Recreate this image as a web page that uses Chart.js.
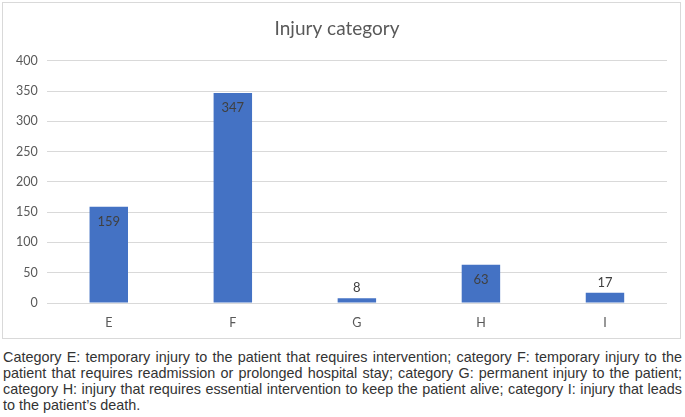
<!DOCTYPE html>
<html>
<head>
<meta charset="utf-8">
<script src="https://cdn.jsdelivr.net/npm/chart.js@4/dist/chart.umd.min.js"></script>
<style>
    body { margin: 0; background: #fff; width: 685px; height: 417px; overflow: hidden; }
    .chartBox { position: absolute; left: 2px; top: 2px; width: 677px; height: 335px; border: 1px solid #d9d9d9; }
    .caption { position: absolute; left: 3px; top: 349px; width: 679px; margin: 0;
        font-family: "Liberation Sans", Arial, sans-serif; font-size: 14.4px; line-height: 16px;
        color: #333; text-align: justify; }
</style>
</head>
<body>
<div class="chartBox"><canvas id="injuryChartElem" width="677" height="335"></canvas></div>
<p class="caption">Category E: temporary injury to the patient that requires intervention; category F: temporary injury to the patient that requires readmission or prolonged hospital stay; category G: permanent injury to the patient; category H: injury that requires essential intervention to keep the patient alive; category I: injury that leads to the patient’s death.</p>

<script>
const categories = ['E', 'F', 'G', 'H', 'I'];
const injuryCounts = [159, 347, 8, 63, 17];
const yTicks = [0, 50, 100, 150, 200, 250, 300, 350, 400];

const fontFamily = 'Lato, "Open Sans", sans-serif';

// Value labels: inside the top of tall bars, above short ones
const barLabels = {
    id: 'barLabels',
    afterDatasetsDraw(chart) {
        const ctx = chart.ctx;
        const meta = chart.getDatasetMeta(0);
        ctx.save();
        ctx.font = `13px ${fontFamily}`;
        ctx.fillStyle = '#404040';
        ctx.textAlign = 'center';
        ctx.textBaseline = 'middle';
        meta.data.forEach((bar, i) => {
            const h = bar.base - bar.y;
            const y = h > 24 ? bar.y + 15 : bar.y - 10;
            ctx.fillText(String(injuryCounts[i]), bar.x, y);
        });
        ctx.restore();
    }
};

const injuryChartElem = document.getElementById('injuryChartElem');
const injuryChart = new Chart(injuryChartElem, {
    type: 'bar',
    data: {
        labels: categories,
        datasets: [{
            label: 'Injury category',
            data: injuryCounts,
            backgroundColor: '#4472c4',
            borderWidth: 0,
            barPercentage: 0.62,
            categoryPercentage: 0.5
        }]
    },
    options: {
        responsive: false,
        animation: false,
        layout: { padding: { left: 4, right: 13, top: 0, bottom: -4 } },
        scales: {
            y: {
                min: 0,
                max: 400,
                afterBuildTicks: (axis) => { axis.ticks = yTicks.map(v => ({ value: v })); },
                border: { display: false },
                grid: { color: '#d9d9d9', lineWidth: 1, drawTicks: false },
                ticks: { color: '#595959', padding: 9, font: { family: fontFamily, size: 12.5 } }
            },
            x: {
                border: { display: false },
                grid: { display: false, drawTicks: false },
                ticks: { color: '#595959', padding: 12, font: { family: fontFamily, size: 12.5 } }
            }
        },
        plugins: {
            legend: { display: false },
            tooltip: { enabled: false },
            title: {
                display: true,
                text: 'Injury category',
                color: '#595959',
                font: { family: fontFamily, size: 19, weight: 'normal' },
                padding: { top: 14, bottom: 21 }
            }
        }
    },
    plugins: [barLabels]
});
</script>
</body>
</html>
